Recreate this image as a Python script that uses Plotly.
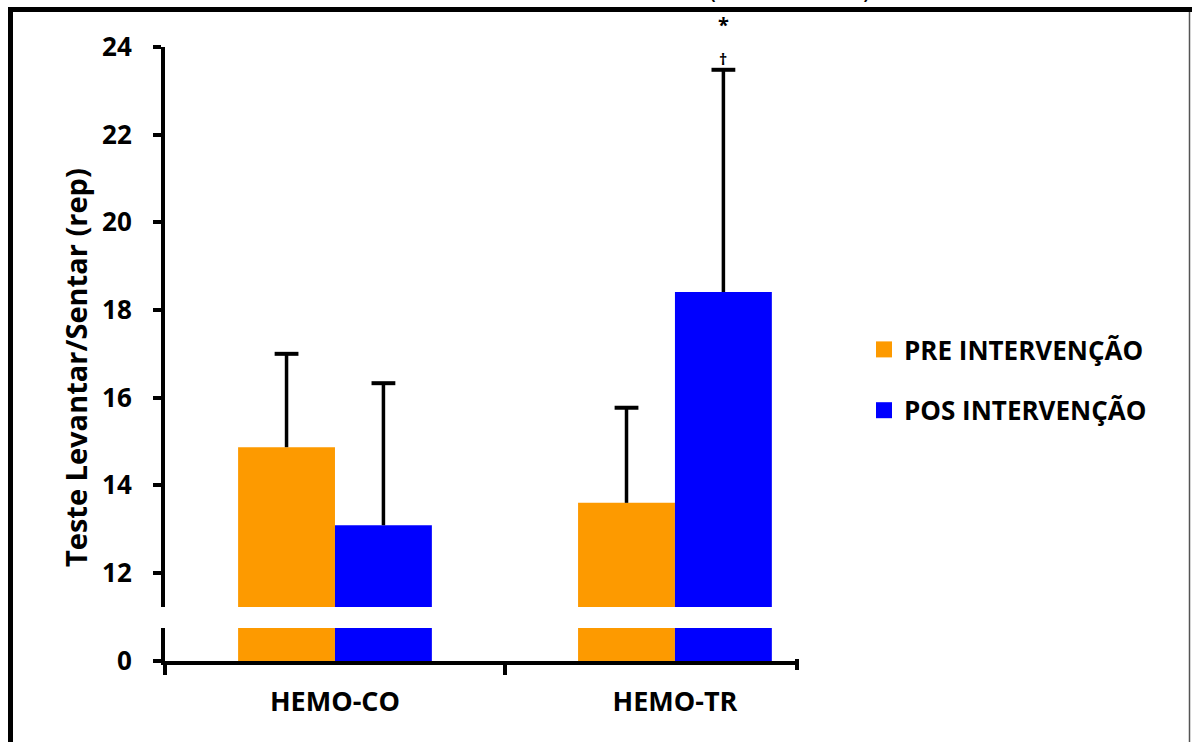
import plotly.graph_objects as go

categories = ["HEMO-CO", "HEMO-TR"]
pre_values = [14.87, 13.6]
pos_values = [13.09, 18.41]
pre_err = [2.13, 2.17]
pos_err = [3.24, 5.07]
series_names = ["PRE INTERVENÇÃO", "POS INTERVENÇÃO"]
upper_ticks = [12, 14, 16, 18, 20, 22, 24]
lower_ticks = [0]

W, H = 1192, 742
ORANGE = "#FD9A00"
BLUE = "#0000FF"
FONT = "Open Sans"
BAR_W = 0.285

def px(x):
    return x / W

def py(y):
    return 1 - y / H

xpos = list(range(len(categories)))

fig = go.Figure()

def add_series(values, errs, color, offset, name):
    fig.add_trace(go.Bar(x=xpos, y=values, width=BAR_W, offset=offset, marker_color=color,
                         marker_line_width=0, xaxis="x", yaxis="y", showlegend=False,
                         hoverinfo="y"))
    fig.add_trace(go.Bar(x=xpos, y=values, width=BAR_W, offset=offset, marker_color=color,
                         marker_line_width=0, xaxis="x", yaxis="y2", showlegend=False,
                         hoverinfo="skip"))
    centers = [i + offset + BAR_W / 2 for i in xpos]
    sx, sy = [], []
    for c, v, e in zip(centers, values, errs):
        sx += [c, c, None]
        sy += [v, v + e, None]
    fig.add_trace(go.Scatter(x=sx, y=sy, mode="lines", line=dict(color="black", width=3.5),
                             xaxis="x", yaxis="y", showlegend=False, hoverinfo="skip"))
    fig.add_trace(go.Scatter(x=centers, y=[v + e for v, e in zip(values, errs)], mode="markers",
                             marker=dict(symbol="line-ew", size=17, color="black",
                                         line=dict(color="black", width=4)),
                             xaxis="x", yaxis="y", showlegend=False, hoverinfo="skip"))
    fig.add_trace(go.Scatter(x=[None], y=[None], mode="markers", name=name,
                             marker=dict(symbol="square", size=17, color=color),
                             xaxis="x", yaxis="y", showlegend=True, legendgroup=name))

add_series(pre_values, pre_err, ORANGE, -BAR_W, series_names[0])
add_series(pos_values, pos_err, BLUE, 0.0, series_names[1])

tickfont = dict(family=FONT, size=26, color="black", weight="bold")

fig.update_layout(
    width=W, height=H,
    margin=dict(l=0, r=0, t=0, b=0),
    paper_bgcolor="white", plot_bgcolor="white",
    barmode="overlay",
    xaxis=dict(domain=[px(165), px(797)], anchor="y2", range=[-0.5, 1.359],
               tickvals=xpos, ticktext=categories, ticks="",
               minor=dict(tickvals=[-0.5, 0.5, 1.5], ticks="outside", ticklen=10, tickwidth=4,
                          tickcolor="black", showgrid=False),
               showline=True, linecolor="black", linewidth=4,
               tickfont=dict(family=FONT, size=27, color="black", weight="bold"),
               ticklabelstandoff=14, showgrid=False, zeroline=False, automargin=False),
    yaxis=dict(domain=[py(607), py(47)], range=[11.224, 24], anchor="x",
               tickvals=upper_ticks, showline=True, linecolor="black", linewidth=4,
               ticks="outside", ticklen=8, tickwidth=3.5, tickcolor="black",
               tickfont=tickfont, ticklabelstandoff=16, showgrid=False, zeroline=False,
               automargin=False),
    yaxis2=dict(domain=[py(661), py(628)], range=[0, 0.75], anchor="x",
                tickvals=lower_ticks, showline=True, linecolor="black", linewidth=4,
                ticks="outside", ticklen=8, tickwidth=3.5, tickcolor="black",
                tickfont=tickfont, ticklabelstandoff=16, showgrid=False, zeroline=False,
                automargin=False),
    legend=dict(x=px(864), y=py(326), xanchor="left", yanchor="top",
                font=dict(family=FONT, size=26, color="black", weight="bold"),
                tracegroupgap=24, itemsizing="trace", traceorder="grouped",
                itemwidth=30, bgcolor="rgba(0,0,0,0)"),
    showlegend=True,
)

annotations = [
    dict(text="Teste Levantar/Sentar (rep)", x=px(75), y=py(368), xref="paper", yref="paper",
         xanchor="center", yanchor="middle",
         textangle=-90, showarrow=False, font=dict(family=FONT, size=29, color="black", weight="bold")),
    dict(text="*", x=1 + BAR_W / 2, y=py(24), xref="x", yref="paper", xanchor="center", yanchor="middle",
         showarrow=False, font=dict(family=FONT, size=20, color="black", weight="bold")),
    dict(text="†", x=1 + BAR_W / 2, y=py(59), xref="x", yref="paper", xanchor="center", yanchor="middle",
         showarrow=False, font=dict(family=FONT, size=16, color="black", weight="bold")),
    dict(text="(", x=px(712), y=py(6), xref="paper", yref="paper", xanchor="center", yanchor="bottom",
         showarrow=False, font=dict(family="DejaVu Sans", size=26, color="black")),
    dict(text=")", x=px(867), y=py(6), xref="paper", yref="paper", xanchor="center", yanchor="bottom",
         showarrow=False, font=dict(family="DejaVu Sans", size=26, color="black")),
]
fig.update_layout(annotations=annotations)

shapes = [
    dict(type="line", xref="paper", yref="paper", x0=px(8), x1=1, y0=py(9.5), y1=py(9.5),
         line=dict(color="black", width=5)),
    dict(type="line", xref="paper", yref="paper", x0=px(10.5), x1=px(10.5), y0=py(7), y1=0,
         line=dict(color="black", width=5)),
    dict(type="line", xref="paper", yref="paper", x0=px(1189.5), x1=px(1189.5), y0=py(12), y1=0,
         line=dict(color="#555555", width=1.5)),
    dict(type="line", xref="paper", yref="paper", x0=px(797), x1=px(797), y0=py(659), y1=py(670),
         line=dict(color="black", width=4)),
]
fig.update_layout(shapes=shapes)

fig.write_html("out.html")
